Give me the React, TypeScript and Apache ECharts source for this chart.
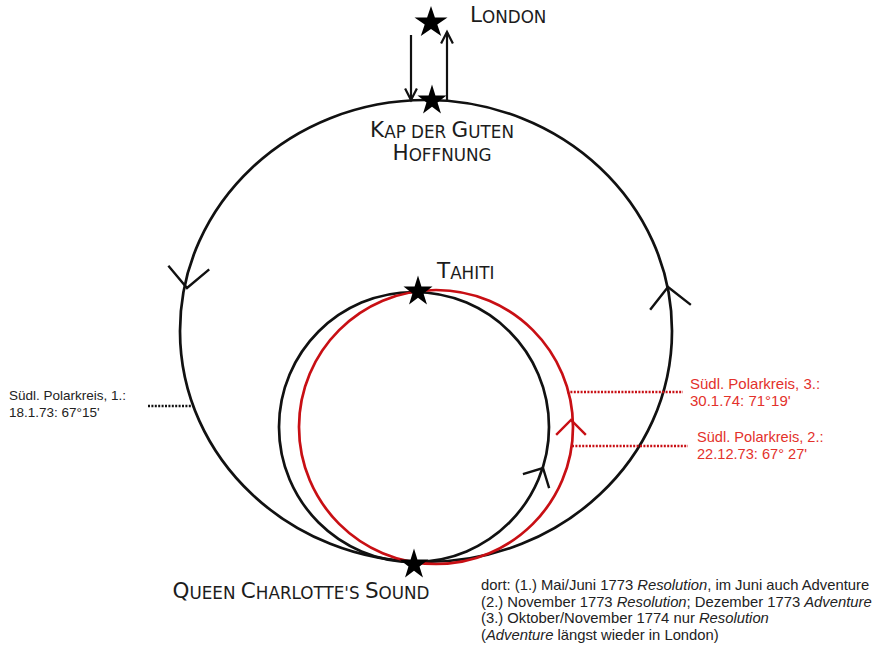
import React, { useEffect, useRef } from 'react';
import * as echarts from 'echarts';

// ---- places (diagram coordinates) ----
const placeNames = ['London', 'Kap der Guten Hoffnung', 'Tahiti', "Queen Charlotte's Sound"];
const placeX = [431, 432, 418, 414];
const placeY = [21, 99, 290, 563];

// ---- place labels (one entry per text line) ----
const placeLabelLines = ['London', 'Kap der Guten', 'Hoffnung', 'Tahiti', "Queen Charlotte's Sound"];
const placeLabelX = [470, 442, 442, 437, 301];
const placeLabelBaseline = [22, 137, 160, 278, 598];
const placeLabelAlign = ['left', 'center', 'center', 'left', 'center'];

// ---- route loops: centre x, centre y, radius x, radius y ----
const routeNames = ['Kap – Neuseeland', 'Neuseeland – Tahiti 1773', 'Neuseeland – Tahiti 1774'];
const routeCx = [426, 414, 436];
const routeCy = [331, 427, 427];
const routeRx = [246, 135, 137];
const routeRy = [231, 135, 137];

// ---- direction arrows on the loops ----
const arrowRoute = [0, 0, 1, 2];
const arrowX = [187, 668, 543, 571];
const arrowY = [288, 287, 468, 420];
const arrowHeading = [185, -7, 28, 0];

// ---- London <-> Kap transfers ----
const transferX = [411, 447];
const transferFromY = [35, 100];
const transferToY = [100, 32];

// ---- Antarctic circle crossings ----
const polarLabels = [
  "Südl. Polarkreis, 1.:\n18.1.73: 67°15'",
  "Südl. Polarkreis, 3.:\n30.1.74: 71°19'",
  "Südl. Polarkreis, 2.:\n22.12.73: 67° 27'",
];
const polarLineX1 = [148, 567, 572];
const polarLineX2 = [194, 683, 688];
const polarLineY = [406, 392, 446];
const polarLabelX = [9, 690, 697];
const polarLabelY = [395, 383, 437];

// ---- notes ----
const noteLines = [
  'dort: (1.) Mai/Juni 1773 {i|Resolution}, im Juni auch Adventure',
  '(2.) November 1773 {i|Resolution}; Dezember 1773 {i|Adventure}',
  '(3.) Oktober/November 1774 nur {i|Resolution}',
  '({i|Adventure} längst wieder in London)',
];
const noteX = [481];
const noteY = [585];

const routeColors = ['#111111', '#111111', '#c80f14'];
const polarTextColors = ['#222222', '#e3312b', '#e3312b'];
const polarLineColors = ['#111111', '#c80f14', '#c80f14'];

const STAR =
  'path://M0,-100 L22.45,-30.9 L95.1,-30.9 L36.3,11.8 L58.8,80.9 L0,38.2 L-58.8,80.9 L-36.3,11.8 L-95.1,-30.9 L-22.45,-30.9 Z';

function smallCaps(s: string): string {
  const parts: { t: string; k: string }[] = [];
  for (const ch of s) {
    const big = ch !== ch.toLowerCase() && ch === ch.toUpperCase();
    const k = big ? 'b' : 's';
    if (parts.length && parts[parts.length - 1].k === k) parts[parts.length - 1].t += ch;
    else parts.push({ t: ch, k });
  }
  return parts.map((p) => `{${p.k}|${p.t.toUpperCase()}}`).join('');
}

export default function App() {
  const ref = useRef<HTMLDivElement>(null);
  useEffect(() => {
    if (!ref.current) return;
    const chart = echarts.init(ref.current, null, { renderer: 'svg' });
    const option: any = {
      animation: false,
      backgroundColor: '#ffffff',
      grid: { left: 0, right: 0, top: 0, bottom: 0 },
      xAxis: { type: 'value', min: 0, max: 878, show: false },
      yAxis: { type: 'value', min: 0, max: 647, inverse: true, show: false },
      series: [
        {
          type: 'custom',
          name: 'Routen',
          silent: true,
          data: routeCx.map((cx, i) => ({ name: routeNames[i], value: [cx, routeCy[i], routeRx[i], routeRy[i]] })),
          renderItem: (params: any, api: any) => {
            const c = api.coord([api.value(0), api.value(1)]);
            const s = api.size([api.value(2), api.value(3)]);
            return {
              type: 'ellipse',
              shape: { cx: c[0], cy: c[1], rx: Math.abs(s[0]), ry: Math.abs(s[1]) },
              style: { fill: 'none', stroke: routeColors[params.dataIndex], lineWidth: 2.7 },
            };
          },
        },
        {
          type: 'custom',
          name: 'Richtung',
          silent: true,
          data: arrowX.map((x, i) => [x, arrowY[i], arrowHeading[i], arrowRoute[i]]),
          renderItem: (params: any, api: any) => {
            const p = api.coord([api.value(0), api.value(1)]);
            const th = (api.value(2) * Math.PI) / 180;
            const route = api.value(3);
            const len = route === 0 ? 29 : 21;
            const bx = -Math.sin(th);
            const by = Math.cos(th);
            const a = Math.PI / 4;
            const r1 = [bx * Math.cos(a) - by * Math.sin(a), bx * Math.sin(a) + by * Math.cos(a)];
            const r2 = [bx * Math.cos(-a) - by * Math.sin(-a), bx * Math.sin(-a) + by * Math.cos(-a)];
            return {
              type: 'polyline',
              shape: {
                points: [
                  [p[0] + len * r1[0], p[1] + len * r1[1]],
                  [p[0], p[1]],
                  [p[0] + len * r2[0], p[1] + len * r2[1]],
                ],
              },
              style: { fill: 'none', stroke: routeColors[route], lineWidth: 2.4 },
            };
          },
        },
        {
          type: 'custom',
          name: 'London',
          silent: true,
          data: transferX.map((x, i) => [x, transferFromY[i], transferToY[i]]),
          renderItem: (params: any, api: any) => {
            const a = api.coord([api.value(0), api.value(1)]);
            const b = api.coord([api.value(0), api.value(2)]);
            const dir = b[1] > a[1] ? 1 : -1;
            const hl = 13;
            const ang = (27 * Math.PI) / 180;
            const dx = hl * Math.sin(ang);
            const dy = hl * Math.cos(ang) * dir;
            return {
              type: 'group',
              children: [
                { type: 'line', shape: { x1: a[0], y1: a[1], x2: b[0], y2: b[1] }, style: { stroke: '#111', lineWidth: 2.2 } },
                {
                  type: 'polyline',
                  shape: { points: [[b[0] - dx, b[1] - dy], [b[0], b[1]], [b[0] + dx, b[1] - dy]] },
                  style: { fill: 'none', stroke: '#111', lineWidth: 2.2 },
                },
              ],
            };
          },
        },
        {
          type: 'custom',
          name: 'Polarkreis',
          silent: true,
          data: polarLineX1.map((x, i) => [x, polarLineX2[i], polarLineY[i]]),
          renderItem: (params: any, api: any) => {
            const a = api.coord([api.value(0), api.value(2)]);
            const b = api.coord([api.value(1), api.value(2)]);
            return {
              type: 'line',
              shape: { x1: a[0], y1: a[1], x2: b[0], y2: b[1] },
              style: { stroke: polarLineColors[params.dataIndex], lineWidth: 2.6, lineDash: [2, 1.4] },
            };
          },
        },
        {
          type: 'scatter',
          name: 'Orte',
          silent: true,
          symbol: STAR,
          symbolSize: (v: any, p: any) => (p.dataIndex === 0 ? [33, 30] : [29, 29]),
          itemStyle: { color: '#000', opacity: 1 },
          data: placeX.map((x, i) => ({ name: placeNames[i], value: [x, placeY[i]] })),
          z: 5,
        },
        {
          type: 'custom',
          name: 'Ortsnamen',
          silent: true,
          z: 6,
          data: placeLabelX.map((x, i) => [x, placeLabelBaseline[i]]),
          renderItem: (params: any, api: any) => {
            const p = api.coord([api.value(0), api.value(1)]);
            return {
              type: 'text',
              x: p[0],
              y: p[1] - 18.6,
              style: {
                text: smallCaps(placeLabelLines[params.dataIndex]),
                align: placeLabelAlign[params.dataIndex],
                verticalAlign: 'top',
                fill: '#1c1c1c',
                fontFamily: 'DejaVu Sans',
                rich: {
                  b: { fontSize: 21.5, lineHeight: 22, verticalAlign: 'bottom', fontFamily: 'DejaVu Sans', fill: '#1c1c1c' },
                  s: { fontSize: 16.8, lineHeight: 18.6, verticalAlign: 'bottom', fontFamily: 'DejaVu Sans', fill: '#1c1c1c' },
                },
              },
            };
          },
        },
        {
          type: 'custom',
          name: 'Polarkreis-Texte',
          silent: true,
          z: 6,
          data: polarLabelX.map((x, i) => [x, polarLabelY[i]]),
          renderItem: (params: any, api: any) => {
            const p = api.coord([api.value(0), api.value(1)]);
            const i = params.dataIndex;
            const fs = i === 0 ? 13.5 : i === 1 ? 15 : 14.6;
            const lh = 17;
            return {
              type: 'text',
              x: p[0],
              y: p[1] - lh / 2,
              style: {
                text: polarLabels[i],
                fill: polarTextColors[i],
                fontFamily: 'Liberation Sans',
                fontSize: fs,
                lineHeight: lh,
                align: 'left',
                verticalAlign: 'top',
              },
            };
          },
        },
        {
          type: 'custom',
          name: 'Notizen',
          silent: true,
          z: 6,
          data: [[noteX[0], noteY[0]]],
          renderItem: (params: any, api: any) => {
            const p = api.coord([api.value(0), api.value(1)]);
            return {
              type: 'text',
              x: p[0],
              y: p[1] - 8.3,
              style: {
                text: noteLines.join('\n'),
                fill: '#222',
                fontFamily: 'Liberation Sans',
                fontSize: 14.8,
                lineHeight: 16.6,
                align: 'left',
                verticalAlign: 'top',
                rich: {
                  i: { fontStyle: 'italic', fontSize: 14.8, lineHeight: 16.6, fontFamily: 'Liberation Sans', fill: '#222' },
                },
              },
            };
          },
        },
      ],
    };
    chart.setOption(option);
    return () => chart.dispose();
  }, []);
  return (
    <div
      ref={ref}
      style={{ position: 'fixed', left: 0, top: 0, width: 878, height: 647, background: '#fff' }}
    />
  );
}
